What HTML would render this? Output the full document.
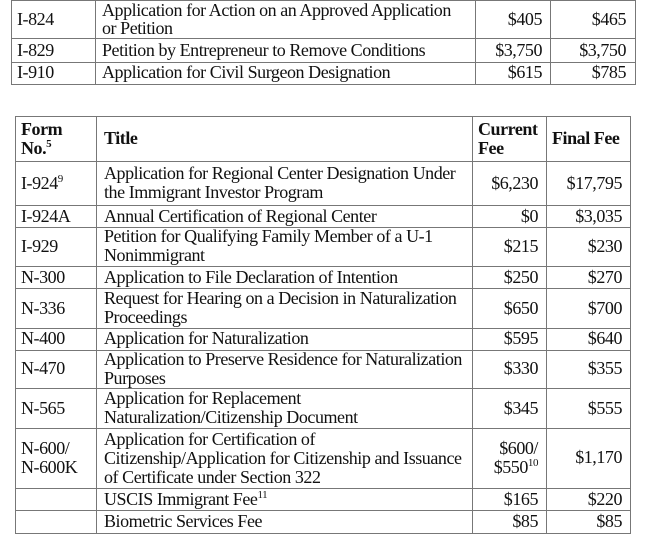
<!DOCTYPE html>
<html><head><meta charset="utf-8"><style>
html,body{margin:0;padding:0;background:#fff;width:649px;height:546px;overflow:hidden}
body{position:relative;font-family:"Liberation Serif",serif;font-size:18px;color:#111}
.h{position:absolute;height:1px;background:#777}
.v{position:absolute;width:1px;background:#777}
.t{position:absolute;line-height:19px;white-space:nowrap;letter-spacing:-0.45px}
.r{text-align:right}
b{font-weight:bold}
sup{font-size:11px;line-height:0;vertical-align:7px}
</style></head><body>
<!-- top table -->
<div class="h" style="left:11px;width:625px;top:0px"></div>
<div class="h" style="left:11px;width:625px;top:38px"></div>
<div class="h" style="left:11px;width:625px;top:62px"></div>
<div class="h" style="left:11px;width:625px;top:84px"></div>
<div class="v" style="left:11px;top:0;height:85px"></div>
<div class="v" style="left:95px;top:0;height:85px"></div>
<div class="v" style="left:475px;top:0;height:85px"></div>
<div class="v" style="left:550px;top:0;height:85px"></div>
<div class="v" style="left:635px;top:0;height:85px"></div>
<div class="t" style="left:17px;top:10px">I-824</div>
<div class="t" style="left:102px;top:1px">Application for Action on an Approved Application</div>
<div class="t" style="left:102px;top:19px">or Petition</div>
<div class="t r" style="left:475px;width:67px;top:10px">$405</div>
<div class="t r" style="left:550px;width:76px;top:10px">$465</div>
<div class="t" style="left:17px;top:41px">I-829</div>
<div class="t" style="left:102px;top:41px">Petition by Entrepreneur to Remove Conditions</div>
<div class="t r" style="left:475px;width:67px;top:41px">$3,750</div>
<div class="t r" style="left:550px;width:76px;top:41px">$3,750</div>
<div class="t" style="left:17px;top:63px">I-910</div>
<div class="t" style="left:102px;top:63px">Application for Civil Surgeon Designation</div>
<div class="t r" style="left:475px;width:67px;top:63px">$615</div>
<div class="t r" style="left:550px;width:76px;top:63px">$785</div>

<!-- bottom table -->
<div class="h" style="left:15px;width:616px;top:116px"></div>
<div class="h" style="left:15px;width:616px;top:161px"></div>
<div class="h" style="left:15px;width:616px;top:205px"></div>
<div class="h" style="left:15px;width:616px;top:227px"></div>
<div class="h" style="left:15px;width:616px;top:266px"></div>
<div class="h" style="left:15px;width:616px;top:288px"></div>
<div class="h" style="left:15px;width:616px;top:328px"></div>
<div class="h" style="left:15px;width:616px;top:350px"></div>
<div class="h" style="left:15px;width:616px;top:388px"></div>
<div class="h" style="left:15px;width:616px;top:428px"></div>
<div class="h" style="left:15px;width:616px;top:488px"></div>
<div class="h" style="left:15px;width:616px;top:510px"></div>
<div class="h" style="left:15px;width:616px;top:533px"></div>
<div class="v" style="left:15px;top:116px;height:418px"></div>
<div class="v" style="left:96px;top:116px;height:418px"></div>
<div class="v" style="left:472px;top:116px;height:418px"></div>
<div class="v" style="left:546px;top:116px;height:418px"></div>
<div class="v" style="left:630px;top:116px;height:418px"></div>

<div class="t" style="left:21px;top:120px"><b>Form</b></div>
<div class="t" style="left:21px;top:139px"><b>No.<sup>5</sup></b></div>
<div class="t" style="left:104px;top:129px"><b>Title</b></div>
<div class="t" style="left:478px;top:120px"><b>Current</b></div>
<div class="t" style="left:478px;top:139px"><b>Fee</b></div>
<div class="t" style="left:552px;top:129px"><b>Final Fee</b></div>

<div class="t" style="left:21px;top:174px">I-924<sup>9</sup></div>
<div class="t" style="left:104px;top:164px">Application for Regional Center Designation Under</div>
<div class="t" style="left:104px;top:183px">the Immigrant Investor Program</div>
<div class="t r" style="left:472px;width:66px;top:174px">$6,230</div>
<div class="t r" style="left:546px;width:76px;top:174px">$17,795</div>

<div class="t" style="left:21px;top:207px">I-924A</div>
<div class="t" style="left:104px;top:207px">Annual Certification of Regional Center</div>
<div class="t r" style="left:472px;width:66px;top:207px">$0</div>
<div class="t r" style="left:546px;width:76px;top:207px">$3,035</div>

<div class="t" style="left:21px;top:237px">I-929</div>
<div class="t" style="left:104px;top:227px">Petition for Qualifying Family Member of a U-1</div>
<div class="t" style="left:104px;top:246px">Nonimmigrant</div>
<div class="t r" style="left:472px;width:66px;top:237px">$215</div>
<div class="t r" style="left:546px;width:76px;top:237px">$230</div>

<div class="t" style="left:21px;top:268px">N-300</div>
<div class="t" style="left:104px;top:268px">Application to File Declaration of Intention</div>
<div class="t r" style="left:472px;width:66px;top:268px">$250</div>
<div class="t r" style="left:546px;width:76px;top:268px">$270</div>

<div class="t" style="left:21px;top:299px">N-336</div>
<div class="t" style="left:104px;top:289px">Request for Hearing on a Decision in Naturalization</div>
<div class="t" style="left:104px;top:308px">Proceedings</div>
<div class="t r" style="left:472px;width:66px;top:299px">$650</div>
<div class="t r" style="left:546px;width:76px;top:299px">$700</div>

<div class="t" style="left:21px;top:329px">N-400</div>
<div class="t" style="left:104px;top:329px">Application for Naturalization</div>
<div class="t r" style="left:472px;width:66px;top:329px">$595</div>
<div class="t r" style="left:546px;width:76px;top:329px">$640</div>

<div class="t" style="left:21px;top:359px">N-470</div>
<div class="t" style="left:104px;top:350px">Application to Preserve Residence for Naturalization</div>
<div class="t" style="left:104px;top:369px">Purposes</div>
<div class="t r" style="left:472px;width:66px;top:359px">$330</div>
<div class="t r" style="left:546px;width:76px;top:359px">$355</div>

<div class="t" style="left:21px;top:399px">N-565</div>
<div class="t" style="left:104px;top:389px">Application for Replacement</div>
<div class="t" style="left:104px;top:408px">Naturalization/Citizenship Document</div>
<div class="t r" style="left:472px;width:66px;top:399px">$345</div>
<div class="t r" style="left:546px;width:76px;top:399px">$555</div>

<div class="t" style="left:21px;top:439px">N-600/</div>
<div class="t" style="left:21px;top:458px">N-600K</div>
<div class="t" style="left:104px;top:430px">Application for Certification of</div>
<div class="t" style="left:104px;top:449px">Citizenship/Application for Citizenship and Issuance</div>
<div class="t" style="left:104px;top:468px">of Certificate under Section 322</div>
<div class="t r" style="left:472px;width:66px;top:439px">$600/</div>
<div class="t r" style="left:472px;width:66px;top:458px">$550<sup>10</sup></div>
<div class="t r" style="left:546px;width:76px;top:448px">$1,170</div>

<div class="t" style="left:104px;top:490px">USCIS Immigrant Fee<sup>11</sup></div>
<div class="t r" style="left:472px;width:66px;top:490px">$165</div>
<div class="t r" style="left:546px;width:76px;top:490px">$220</div>

<div class="t" style="left:104px;top:512px">Biometric Services Fee</div>
<div class="t r" style="left:472px;width:66px;top:512px">$85</div>
<div class="t r" style="left:546px;width:76px;top:512px">$85</div>
</body></html>
